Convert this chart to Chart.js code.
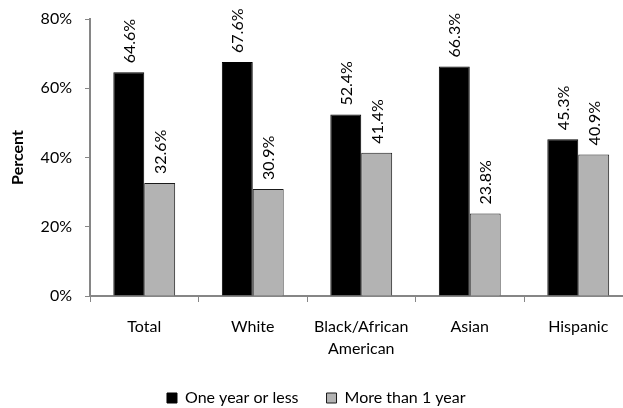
<!DOCTYPE html>
<html>
<head>
<meta charset="utf-8">
<script src="https://cdn.jsdelivr.net/npm/chart.js@4"></script>
<style>
html,body{margin:0;padding:0;background:#fff;overflow:hidden;}
#wrap{width:640px;height:416px;}
</style>
</head>
<body>
<div id="wrap"><canvas id="c" width="640" height="416"></canvas></div>
<script>
const categories = [["Total"], ["White"], ["Black/African", "American"], ["Asian"], ["Hispanic"]];
const oneYearOrLess = [64.6, 67.6, 52.4, 66.3, 45.3];
const moreThanOneYear = [32.6, 30.9, 41.4, 23.8, 40.9];
const seriesNames = ["One year or less", "More than 1 year"];
const yTicks = [0, 20, 40, 60, 80];

const AXIS = '#868686';
const TXT = '#000';
const FONT = 'Lato';

const valueLabels = {
  id: 'valueLabels',
  afterDatasetsDraw(chart) {
    const ctx = chart.ctx;
    ctx.save();
    ctx.font = '16px ' + FONT;
    ctx.fillStyle = TXT;
    ctx.textAlign = 'left';
    ctx.textBaseline = 'middle';
    chart.data.datasets.forEach((ds, di) => {
      const meta = chart.getDatasetMeta(di);
      meta.data.forEach((bar, i) => {
        ctx.save();
        ctx.translate(bar.x + 1, bar.y - 9);
        ctx.rotate(-Math.PI / 2);
        ctx.fillText(ds.data[i].toFixed(1) + '%', 0, 0);
        ctx.restore();
      });
    });
    ctx.restore();
  }
};

new Chart(document.getElementById('c'), {
  type: 'bar',
  data: {
    labels: categories,
    datasets: [
      { label: seriesNames[0], data: oneYearOrLess, backgroundColor: '#000000', borderColor: '#000000', borderWidth: 1 },
      { label: seriesNames[1], data: moreThanOneYear, backgroundColor: '#b3b3b3', borderColor: '#1a1a1a', borderWidth: 1 }
    ]
  },
  options: {
    responsive: false,
    animation: false,
    events: [],
    layout: { padding: { top: 19, right: 7.5, left: 0, bottom: 0 } },
    datasets: { bar: { categoryPercentage: 0.57, barPercentage: 1.0 } },
    plugins: {
      tooltip: { enabled: false },
      legend: {
        position: 'bottom',
        labels: {
          boxWidth: 10, boxHeight: 10, padding: 28,
          color: TXT, font: { family: FONT, size: 16 }
        }
      }
    },
    scales: {
      x: {
        grid: { display: true, offset: true, drawOnChartArea: false, tickLength: 6, color: AXIS, lineWidth: 1 },
        border: { display: true, color: AXIS, width: 2 },
        ticks: { color: TXT, font: { family: FONT, size: 16, lineHeight: 1.375 }, padding: 14, maxRotation: 0, autoSkip: false },
        afterFit(s) { s.height = 66; s.paddingLeft = 0; s.paddingRight = 0; }
      },
      y: {
        min: 0, max: 80,
        afterBuildTicks(s) { s.ticks = yTicks.map(v => ({ value: v })); },
        grid: { display: true, drawOnChartArea: false, tickLength: 5, color: AXIS, lineWidth: 1 },
        border: { display: true, color: AXIS, width: 2 },
        ticks: { color: TXT, font: { family: FONT, size: 16 }, padding: 13, callback: v => v + '%' },
        title: { display: true, text: 'Percent', color: TXT, font: { family: FONT, size: 16, weight: 'bold' }, padding: { top: 8, bottom: 0 } },
        afterFit(s) { s.width = 90; s.paddingTop = 0; s.paddingBottom = 0; }
      }
    }
  },
  plugins: [valueLabels]
});
</script>
</body>
</html>
